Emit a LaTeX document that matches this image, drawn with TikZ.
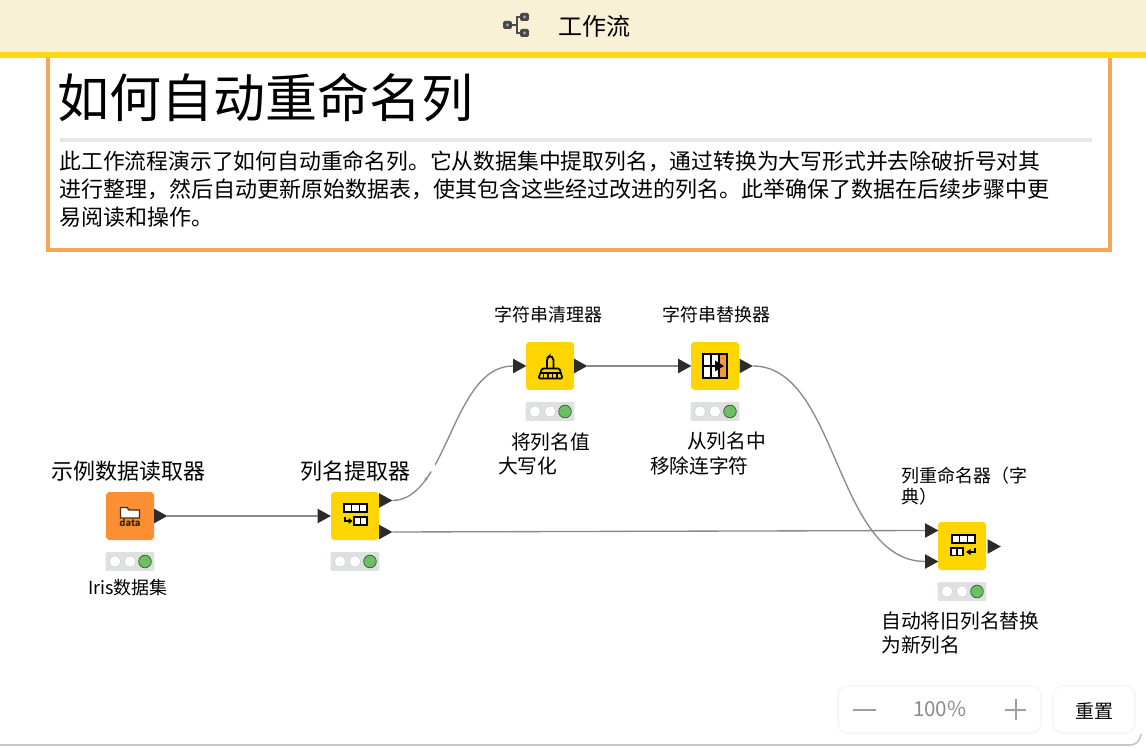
\documentclass[tikz,border=0pt]{standalone}
\usepackage{fontspec}
\setmainfont{Noto Sans CJK SC}
\usetikzlibrary{shapes.geometric}
\definecolor{headbg}{HTML}{F8F1D6}
\definecolor{headline}{HTML}{FFD714}
\definecolor{annot}{HTML}{F6A656}
\definecolor{rulegray}{HTML}{E6E8E8}
\definecolor{kyellow}{HTML}{FFD500}
\definecolor{korange}{HTML}{FC8F33}
\definecolor{iconorange}{HTML}{EE9A44}
\definecolor{statbg}{HTML}{DEE1E0}
\definecolor{statgreen}{HTML}{6CBF62}
\definecolor{wire}{HTML}{8A8A8A}
\definecolor{portc}{HTML}{2B2B2B}
\definecolor{btnedge}{HTML}{F6F6F6}
\tikzset{
  lbl/.style={anchor=base west,inner sep=0pt,outer sep=0pt,text=black},
  knode/.style={rounded corners=2.5pt,minimum width=36pt,minimum height=36pt,inner sep=0pt,fill=kyellow},
  statbar/.style={rounded corners=0.8pt,minimum width=36.5pt,minimum height=14pt,inner sep=0pt,fill=statbg},
  portn/.style={isosceles triangle,isosceles triangle stretches,shape border rotate=0,minimum width=11pt,minimum height=10pt,inner sep=0pt,outer sep=0pt,fill=portc},
  wireline/.style={draw=wire,line width=1pt},
  cell/.style={fill=white,draw=black,line width=0.9pt},
  dot/.style={circle,minimum size=8.5pt,inner sep=0pt,fill=white,draw=statbg!90!black,line width=0.3pt},
  gdot/.style={circle,minimum size=9.5pt,inner sep=0pt,fill=statgreen,draw=black!55!statgreen,line width=0.5pt},
  btn/.style={fill=white,draw=btnedge,line width=1.2pt,rounded corners=7pt},
}
\newcommand{\status}[2]{%
  \node[statbar] (#1-st) at (#2) {};
  \node[dot] (#1-a) at ([xshift=-11.25pt]#1-st.center) {};
  \node[dot] (#1-b) at (#1-st.center) {};
  \node[gdot] (#1-c) at ([xshift=11.25pt]#1-st.center) {};
}
\begin{document}
\begin{tikzpicture}[x=0.75pt,y=-0.75pt]
\useasboundingbox (0,0) rectangle (1146,748);
\fill[white] (0,0) rectangle (1146,748);
% window edge
\draw[draw=black!22,line width=1.2pt] (0,745) -- (1130,745) .. controls (1136,745) and (1140,741) .. (1141,734);
% header
\fill[headbg] (0,0) rectangle (1146,52);
\fill[headline] (0,52) rectangle (1146,58);
% header icon
\draw[draw=black!70,line width=1.1pt] (510,25) -- (517,25) (522,17) -- (517,17) -- (517,33) -- (522,33);
\foreach \px/\py in {507.5/25,524.5/17,524.5/33} {
  \fill[black!72,rounded corners=1pt] ([xshift=-3.2pt,yshift=-3.0pt]\px,\py) rectangle ([xshift=3.2pt,yshift=3.0pt]\px,\py);
  \fill[black!35] (\px,\py) circle (1.2pt);
}
\node[lbl,font=\fontsize{18}{18}\selectfont] (headt) at (558,36) {工作流};
% annotation
\draw[draw=annot,line width=2.4pt] (48,58) -- (48,250) -- (1110,250) -- (1110,58);
\node[lbl,font=\fontsize{39}{39}\selectfont] (title) at (57,117.6) {如何自动重命名列};
\fill[rulegray] (60,138.5) rectangle (1092,142);
\node[lbl,font=\fontsize{16.35}{16.35}\selectfont] (b1) at (59.5,169.4) {此工作流程演示了如何自动重命名列。它从数据集中提取列名，通过转换为大写形式并去除破折号对其};
\node[lbl,font=\fontsize{16.5}{16.5}\selectfont] (b2) at (59.5,197.4) {进行整理，然后自动更新原始数据表，使其包含这些经过改进的列名。此举确保了数据在后续步骤中更};
\node[lbl,font=\fontsize{16.5}{16.5}\selectfont] (b3) at (59.5,225.4) {易阅读和操作。};
% nodes
\node[knode,fill=korange] (data) at (130,516) {};
\node[knode] (ext) at (355,516) {};
\node[knode] (clean) at (550,366) {};
\node[knode] (repl) at (715,366) {};
\node[knode] (ren) at (962,546) {};
\status{data}{130,561.5}
\status{ext}{355,561.5}
\status{clean}{550,411.5}
\status{repl}{715,411.5}
\status{ren}{962,591.5}
% ports
\node[portn,anchor=west] (dataO) at (154,516) {};
\node[portn,anchor=west] (extI) at (317.5,516) {};
\node[portn,anchor=west] (extO1) at (379,500.5) {};
\node[portn,anchor=west] (extO2) at (379,532) {};
\node[portn,anchor=west] (cleanI) at (513,366) {};
\node[portn,anchor=west] (cleanO) at (574,366) {};
\node[portn,anchor=west] (replI) at (678,366) {};
\node[portn,anchor=west] (replO) at (739.5,366) {};
\node[portn,anchor=west] (renI1) at (925,530.5) {};
\node[portn,anchor=west] (renI2) at (925,561.5) {};
\node[portn,anchor=west] (renO) at (987.5,546.5) {};
% connectors
\draw[wireline] (dataO.east) -- (extI.west);
\draw[wireline] (extO1.east) .. controls (448,500) and (452,366) .. (cleanI.west);
\draw[wireline] (extO2.east) -- (renI1.west);
\draw[wireline] (cleanO.east) -- (replI.west);
\draw[wireline] (replO.east) .. controls (838,366) and (835,561) .. (renI2.west);
% smudge on connector
\fill[white,rotate around={-60:(433,468)}] (433,468) ellipse (8pt and 2.5pt);
\fill[black!45] (426,479) circle (1.3pt);
% data icon
\draw[black!70!korange,fill=white,line width=1pt] (120.5,507.5) -- (120.5,518) -- (139.5,518) -- (139.5,510) -- (129,510) -- (127,507.5) -- cycle;
\node[inner sep=0pt,text=black!75!korange,font=\fontsize{7}{7}\selectfont\bfseries] (datat) at (130,522.5) {data};
% extractor icon
\foreach \a/\b in {344/351.7,351.7/359.4,359.4/367} \draw[cell] (\a,504) rectangle (\b,512);
\foreach \a/\b in {354/360.5,360.5/367} \draw[cell] (\a,517) rectangle (\b,525);
\draw[black,line width=1pt] (345,517) -- (345,521) -- (350,521);
\fill[black] (352.5,521) -- (348.5,518) -- (348.5,524) -- cycle;
% cleaner icon
\draw[black,line width=1.3pt,rounded corners=1.5pt] (547,368) -- (547,358) -- (550,355.5) -- (553.5,358) -- (553.5,368);
\draw[black,line width=1.3pt,rounded corners=1pt] (542,368.5) -- (559.5,368.5) -- (562.5,378.5) -- (538.5,378.5) -- cycle;
\fill[black] (540.5,372) rectangle (561,374.5);
\foreach \u in {543.5,548,552.5,557} \draw[black,line width=0.9pt] (\u,374) -- (\u,378.5);
% replacer icon
\fill[white] (703,354) rectangle (719,378);
\fill[iconorange] (719,354) rectangle (727,378);
\draw[black,line width=1.1pt] (703,354) rectangle (727,378);
\draw[black,line width=0.9pt] (711,354) -- (711,378) (719,354) -- (719,378) (703,366) -- (716,366);
\fill[black] (724,366) -- (715,360.5) -- (715,371.5) -- cycle;
% renamer icon
\foreach \a/\b in {952/959.7,959.7/967.4,967.4/975} \draw[cell] (\a,535) rectangle (\b,543);
\foreach \a/\b in {951/957,957/963} \draw[cell] (\a,548) rectangle (\b,555.5);
\draw[black,line width=1pt] (975,548) -- (975,552) -- (970,552);
\fill[black] (966,552) -- (970.5,549) -- (970.5,555) -- cycle;
% labels
\node[lbl,font=\fontsize{16.5}{16.5}\selectfont] (l1) at (51,479.4) {示例数据读取器};
\node[lbl,font=\fontsize{16.5}{16.5}\selectfont] (l2) at (300,479.4) {列名提取器};
\node[lbl,font=\fontsize{13.5}{13.5}\selectfont] (l3) at (494,321.8) {字符串清理器};
\node[lbl,font=\fontsize{13.5}{13.5}\selectfont] (l4) at (662,321.8) {字符串替换器};
\node[lbl,font=\fontsize{13.5}{13.5}\selectfont] (l5) at (901,482.8) {列重命名器（字};
\node[lbl,font=\fontsize{13.5}{13.5}\selectfont] (l5b) at (901,503.8) {典）};
\node[lbl,font=\fontsize{14.8}{14.8}\selectfont] (a1) at (511,449.5) {将列名值};
\node[lbl,font=\fontsize{14.8}{14.8}\selectfont] (a1b) at (498,473.5) {大写化};
\node[lbl,font=\fontsize{14.8}{14.8}\selectfont] (a2) at (687,448.5) {从列名中};
\node[lbl,font=\fontsize{14.8}{14.8}\selectfont] (a2b) at (650,473.5) {移除连字符};
\node[lbl,font=\fontsize{13.5}{13.5}\selectfont] (a3) at (88,594.5) {Iris数据集};
\node[lbl,font=\fontsize{14.8}{14.8}\selectfont] (a4) at (881.5,628.5) {自动将旧列名替换};
\node[lbl,font=\fontsize{14.8}{14.8}\selectfont] (a4b) at (881.5,652.5) {为新列名};
% zoom controls
\draw[btn] (838,686) rectangle (1041,733);
\draw[btn] (1053,686) rectangle (1135,733);
\draw[black!38,line width=1.5pt] (853,709.5) -- (876,709.5);
\draw[black!38,line width=1.5pt] (1005,709.5) -- (1026,709.5) (1015.5,699) -- (1015.5,720);
\node[lbl,text=black!45,font=\fontsize{15.5}{15.5}\selectfont] (zoomt) at (913,716) {100\%};
\node[lbl,font=\fontsize{14.3}{14.3}\selectfont] (reset) at (1075,718) {重置};
\end{tikzpicture}
\end{document}
